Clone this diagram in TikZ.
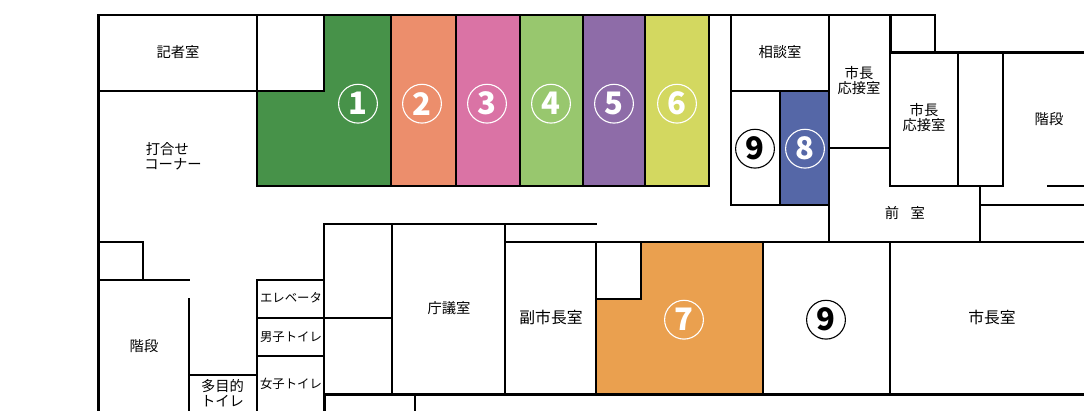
\documentclass[tikz,border=0pt]{standalone}
\usepackage{fontspec}
\setmainfont{Noto Sans CJK JP}
\definecolor{c1}{HTML}{479249}
\definecolor{c2}{HTML}{EC8E6C}
\definecolor{c3}{HTML}{DA73A5}
\definecolor{c4}{HTML}{98C76E}
\definecolor{c5}{HTML}{8E6CA8}
\definecolor{c6}{HTML}{D3D860}
\definecolor{c7}{HTML}{EAA04F}
\definecolor{c8}{HTML}{5567A7}
\tikzset{
  wall/.style={line width=2pt,line cap=rect,black},
  top wall/.style={line width=2.6pt,line cap=rect,black},
  thick wall/.style={line width=3pt,line cap=rect,black},
  label/.style={inner sep=0pt,align=center,text=black,font=\fontsize{14.3}{15}\selectfont},
  big label/.style={label,font=\fontsize{15.8}{16}\selectfont},
  small label/.style={label,font=\fontsize{12.4}{14}\selectfont},
  num/.style={circle,draw,line width=1.1pt,minimum size=38.8pt,inner sep=0pt,font=\fontsize{31}{31}\bfseries\selectfont},
  numw/.style={num,draw=white,text=white},
  numk/.style={num,draw=black,text=black},
}
\begin{document}
\begin{tikzpicture}[x=1pt,y=-1pt]
\useasboundingbox (0,0) rectangle (1084,411);
% coloured rooms
\fill[c1] (324,15) -- (391,15) -- (391,186) -- (257,186) -- (257,91) -- (324,91) -- cycle;
\fill[c2] (391,15) rectangle (456,186);
\fill[c3] (456,15) rectangle (520,186);
\fill[c4] (520,15) rectangle (583,186);
\fill[c5] (583,15) rectangle (645,186);
\fill[c6] (645,15) rectangle (709,186);
\fill[c8] (780,91) rectangle (829,205);
\fill[c7] (641,242) -- (763,242) -- (763,394) -- (596,394) -- (596,299) -- (641,299) -- cycle;
% outer and heavy walls
\draw[thick wall] (98,411) -- (98,15.2);
\draw[top wall] (98,15) -- (935,15);
\draw[wall] (935,15) -- (935,53);
\draw[thick wall] (890,15.2) -- (890,53) -- (1084,53);
\draw[thick wall] (324,394) -- (1084,394);
\draw[thick wall] (324,394) -- (324,411);
% upper block
\draw[wall] (98,91) -- (324,91) -- (324,15);
\draw[wall] (257,15) -- (257,186) -- (709,186) -- (709,15);
\draw[wall] (391,15) -- (391,186);
\draw[wall] (456,15) -- (456,186);
\draw[wall] (520,15) -- (520,186);
\draw[wall] (583,15) -- (583,186);
\draw[wall] (645,15) -- (645,186);
% right upper block
\draw[wall] (731,15) -- (731,205) -- (829,205);
\draw[wall] (731,91) -- (829,91);
\draw[wall] (780,91) -- (780,205);
\draw[wall] (829,15) -- (829,242);
\draw[wall] (829,148) -- (890,148);
\draw[wall] (890,53) -- (890,186) -- (1003,186) -- (1003,53);
\draw[wall] (958,53) -- (958,186);
\draw[wall] (1048,186) -- (1084,186);
\draw[wall] (980,186) -- (980,242);
\draw[wall] (980,205) -- (1084,205);
% middle band
\draw[wall] (505,242) -- (1084,242);
\draw[wall] (324,224) -- (596,224);
\draw[wall] (505,224) -- (505,394);
\draw[wall] (392,224) -- (392,394);
\draw[wall] (596,242) -- (596,394);
\draw[wall] (641,242) -- (641,299) -- (596,299);
\draw[wall] (763,242) -- (763,394);
\draw[wall] (890,242) -- (890,394);
\draw[wall] (415,394) -- (415,411);
% lower left
\draw[wall] (98,242) -- (143,242) -- (143,280);
\draw[wall] (98,280) -- (189,280);
\draw[wall] (189,299) -- (189,411);
\draw[wall] (189,375) -- (257,375);
\draw[wall] (257,411) -- (257,280) -- (324,280);
\draw[wall] (324,224) -- (324,394);
\draw[wall] (257,318) -- (392,318);
\draw[wall] (257,356) -- (324,356);
% labels
\node[label] (kisha) at (178,52) {記者室};
\node[label,align=left] (uchiawase) at (173,156) {\hspace*{1.5pt}打合せ\\コーナー};
\node[label] (soudan) at (780,52) {相談室};
\node[label] (ouse1) at (859,81) {市長\\応接室};
\node[label] (ouse2) at (924,118) {市長\\応接室};
\node[label] (kaidan1) at (1049,119) {階段};
\node[label] (zenshitsu) at (905,213) {前\hspace{0.8em}室};
\node[label] (kaidan2) at (144,346) {階段};
\node[label] (tamokuteki) at (222.5,393) {多目的\\トイレ};
\node[label] (chogi) at (449,308) {庁議室};
\node[big label] (fuku) at (551,317) {副市長室};
\node[big label] (shicho) at (992,317) {市長室};
\node[small label] (ev) at (291,298) {エレベータ};
\node[small label] (men) at (291,337) {男子トイレ};
\node[small label] (women) at (291,384) {女子トイレ};
% circled numbers
\node[numw] (n1) at (358,103.7) {1};
\node[numw] (n2) at (422,103.7) {2};
\node[numw] (n3) at (487,103.7) {3};
\node[numw] (n4) at (551,103.7) {4};
\node[numw] (n5) at (614,103.7) {5};
\node[numw] (n6) at (677,103.7) {6};
\node[numw] (n7) at (684,319.7) {7};
\node[numw] (n8) at (805,148.7) {8};
\node[numk] (n9a) at (755,148.7) {9};
\node[numk] (n9b) at (826,319.7) {9};
\end{tikzpicture}
\end{document}
